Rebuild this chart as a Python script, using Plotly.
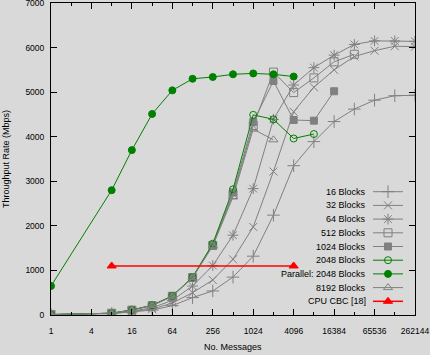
import math
import plotly.graph_objects as go

# ---------------- data ----------------
x_msgs = [1, 8, 16, 32, 64, 128, 256, 512, 1024, 2048, 4096,
          8192, 16384, 32768, 65536, 131072, 262144]

blocks16 = [10, 30, 70, 110, 210, 390, 540, 850, 1320, 2240, 3350,
            3890, 4340, 4620, 4820, 4920, 4930]
blocks32 = [10, 35, 80, 130, 270, 500, 785, 1250, 1975, 3220, 4560,
            5110, 5500, 5800, 5930, 6030, 6020]
blocks64 = [10, 40, 90, 160, 330, 650, 1110, 1790, 2835, 4390, 5160,
            5550, 5830, 6070, 6150, 6150, 6140]
blocks512 = [10, 40, 110, 210, 420, 840, 1560, 2700, 4250, 5450, 4990,
             5320, 5680, 5850]
blocks1024 = [10, 40, 110, 215, 425, 845, 1570, 2750, 4330, 5250, 4375,
              4360, 5020]
blocks2048 = [10, 40, 115, 220, 430, 850, 1600, 2820, 4490, 4390, 3960,
              4060]
parallel2048 = [650, 2800, 3700, 4510, 5040, 5300, 5340, 5400, 5420, 5400,
                5350]
blocks8192 = [10, 40, 110, 215, 420, 840, 1550, 2650, 4170, 3930]
cpu_x = [8, 4096]
cpu_cbc = [1100, 1100]

x_tickvals = [1, 4, 16, 64, 256, 1024, 4096, 16384, 65536, 262144]
x_ticktext = [str(v) for v in x_tickvals]
x_minor = [2, 8, 32, 128, 512, 2048, 8192, 32768, 131072]
y_tickvals = [0, 1000, 2000, 3000, 4000, 5000, 6000, 7000]
y_ticktext = [str(v) for v in y_tickvals]

# ---------------- styles ----------------
GRAY = "#808080"
GREEN = "#008000"
RED = "#ff0000"
BG = "#d9d9d9"
FONT = "Liberation Sans"

series = [
    ("16 Blocks", x_msgs, blocks16, GRAY, "cross-thin", 9),
    ("32 Blocks", x_msgs, blocks32, GRAY, "x-thin", 8),
    ("64 Blocks", x_msgs, blocks64, GRAY, "asterisk", 9),
    ("512 Blocks", x_msgs, blocks512, GRAY, "square-open", 8),
    ("1024 Blocks", x_msgs, blocks1024, GRAY, "square", 7),
    ("2048 Blocks", x_msgs, blocks2048, GREEN, "circle-open", 7),
    ("Parallel: 2048 Blocks", x_msgs, parallel2048, GREEN, "circle", 7),
    ("8192 Blocks", x_msgs, blocks8192, GRAY, "triangle-up-open", 8),
    ("CPU CBC [18]", cpu_x, cpu_cbc, RED, "triangle-up", 8),
]

fig = go.Figure()

for name, xs, ys, col, sym, sz in series:
    fig.add_trace(go.Scatter(
        x=xs[:len(ys)], y=ys, name=name, mode="lines+markers",
        line=dict(color=col, width=1.5 if col == RED else 1),
        marker=dict(symbol=sym, size=sz, color=col,
                    line=dict(color=col, width=1)),
        showlegend=False,
    ))

# ---------------- custom legend (text left, sample right) ----------------
W, H = 430, 355
L, R, T, B = 51, 15, 3, 40
pw, ph = W - L - R, H - T - B

def px_x(p):
    return (p - L) / pw

def px_y(p):
    return (H - B - p) / ph

row0, dy = 191.7, 13.7
for i, (name, xs, ys, col, sym, sz) in enumerate(series):
    yy = px_y(row0 + i * dy)
    x0, x1 = px_x(373), px_x(403)
    fig.add_trace(go.Scatter(
        x=[x0, x1], y=[yy, yy], xaxis="x2", yaxis="y2", mode="lines",
        line=dict(color=col, width=1.5 if col == RED else 1),
        showlegend=False, hoverinfo="skip"))
    fig.add_trace(go.Scatter(
        x=[(x0 + x1) / 2], y=[yy], xaxis="x2", yaxis="y2", mode="markers",
        marker=dict(symbol=sym, size=sz, color=col,
                    line=dict(color=col, width=1)),
        showlegend=False, hoverinfo="skip"))
    fig.add_annotation(x=px_x(368), y=yy, xref="paper", yref="paper",
                       text=name, showarrow=False, xanchor="right",
                       yanchor="middle",
                       font=dict(family=FONT, size=9, color="black"))

axis_common = dict(showline=True, linecolor="black", linewidth=1,
                   mirror="allticks", ticks="inside", ticklen=6,
                   tickcolor="black", showgrid=False, zeroline=False,
                   ticklabeloverflow="allow",
                   tickfont=dict(family=FONT, size=8.5, color="black"))

fig.update_layout(
    width=W, height=H,
    margin=dict(l=L, r=R, t=T, b=B, autoexpand=False),
    paper_bgcolor=BG, plot_bgcolor=BG,
    showlegend=False,
    xaxis=dict(type="log", range=[0, math.log10(262144)],
               tickmode="array", tickvals=x_tickvals, ticktext=x_ticktext,
               minor=dict(tickmode="array", tickvals=x_minor, ticks="inside",
                          ticklen=3, tickcolor="black", showgrid=False),
               ticklabelstandoff=8, automargin=False,
               **axis_common),
    yaxis=dict(range=[0, 7000], tickmode="array", tickvals=y_tickvals,
               ticktext=y_ticktext, ticklabelstandoff=4, automargin=False,
               **axis_common),
    xaxis2=dict(overlaying="x", range=[0, 1], visible=False, fixedrange=True),
    yaxis2=dict(overlaying="y", range=[0, 1], visible=False, fixedrange=True),
)

fig.add_annotation(x=0.5, y=px_y(347), xref="paper", yref="paper",
                   text="No. Messages", showarrow=False,
                   xanchor="center", yanchor="middle",
                   font=dict(family=FONT, size=9, color="black"))
fig.add_annotation(x=px_x(6), y=0.5, xref="paper", yref="paper",
                   text="Throughput Rate (Mbps)", showarrow=False,
                   textangle=-90, xanchor="center", yanchor="middle",
                   font=dict(family=FONT, size=9, color="black"))

fig.write_html("out.html",
               config={"displayModeBar": False},
               post_script="document.body.style.margin='0';"
                           "document.body.style.overflow='hidden';")
